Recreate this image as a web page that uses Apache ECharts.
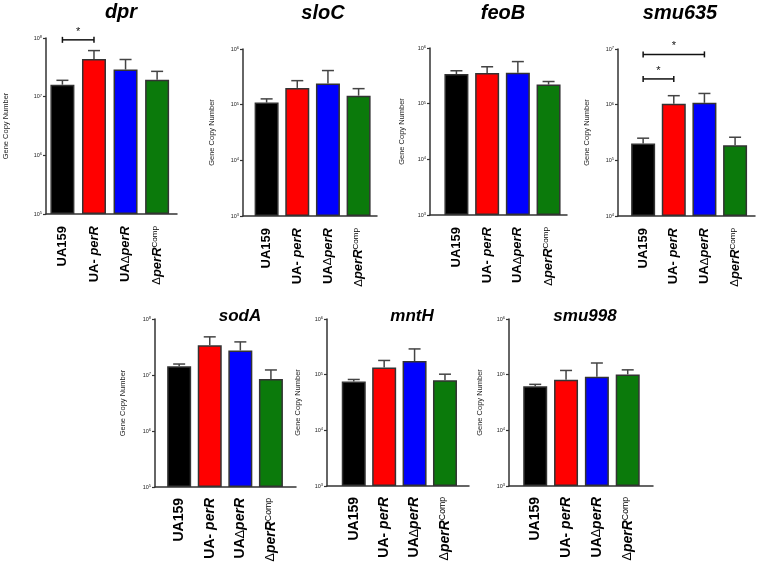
<!DOCTYPE html>
<html>
<head>
<meta charset="utf-8">
<script src="https://cdn.jsdelivr.net/npm/echarts@6/dist/echarts.min.js"></script>
<style>
html,body{margin:0;padding:0;background:#fff;}
#chart{width:760px;height:571px;}
</style>
</head>
<body>
<div id="chart"></div>
<script>
// ---------- DATA ----------
const genes = ['dpr', 'sloC', 'feoB', 'smu635', 'sodA', 'mntH', 'smu998'];
const catPrefix = ['UA159', 'UA- ', 'UA', ''];
const catDelta = ['', '', 'Δ', 'Δ'];
const catItalic = ['', 'perR', 'perR', 'perR'];
const catSup = ['', '', '', 'Comp'];
const yAxisName = 'Gene Copy Number';
const yMinExp = [5, 3, 3, 4, 5, 3, 3];
const yMaxExp = [8, 6, 6, 7, 8, 6, 6];

// mean values and upper ends of error bars
const dprMean = [1.6e7, 4.4e7, 2.9e7, 1.95e7];
const dprErr = [1.9e7, 6.1e7, 4.3e7, 2.7e7];
const sloCMean = [1.09e5, 2.0e5, 2.4e5, 1.45e5];
const sloCErr = [1.27e5, 2.7e5, 4.1e5, 1.94e5];
const feoBMean = [3.4e5, 3.57e5, 3.6e5, 2.2e5];
const feoBErr = [3.9e5, 4.6e5, 5.7e5, 2.5e5];
const smu635Mean = [2.0e5, 1.04e6, 1.08e6, 1.86e5];
const smu635Err = [2.5e5, 1.45e6, 1.59e6, 2.6e5];
const sodAMean = [1.43e7, 3.4e7, 2.75e7, 8.5e6];
const sodAErr = [1.57e7, 4.8e7, 3.9e7, 1.23e7];
const mntHMean = [7.5e4, 1.34e5, 1.76e5, 7.9e4];
const mntHErr = [8.2e4, 1.8e5, 2.9e5, 1.02e5];
const smu998Mean = [6.2e4, 8.1e4, 9.2e4, 1.01e5];
const smu998Err = [6.7e4, 1.19e5, 1.62e5, 1.22e5];

const means = [dprMean, sloCMean, feoBMean, smu635Mean, sodAMean, mntHMean, smu998Mean];
const errs = [dprErr, sloCErr, feoBErr, smu635Err, sodAErr, mntHErr, smu998Err];

// significance brackets: panel index, from category, to category, bracket height
const sigPanel = [0, 3, 3];
const sigFrom = [0, 0, 0];
const sigTo = [1, 1, 2];
const sigY = [9.3e7, 2.9e6, 8.0e6];
const sigLabel = ['*', '*', '*'];

// ---------- STYLE / LAYOUT ----------
const barColors = ['#000000', '#ff0000', '#0000ff', '#0b7a0b'];
const layout = [
  {left: 46, top: 38, width: 131, height: 176, xMin: -0.52, xMax: 3.63, nameGap: 36, tx: 121, ty: 2, ts: 20, lf: 13, lm: 12},
  {left: 243, top: 49, width: 134, height: 167, xMin: -0.77, xMax: 3.6, nameGap: 27, tx: 323, ty: 3, ts: 20, lf: 13, lm: 12},
  {left: 430, top: 48, width: 137, height: 167, xMin: -0.86, xMax: 3.6, nameGap: 24, tx: 503, ty: 3, ts: 20, lf: 13, lm: 12},
  {left: 618, top: 49, width: 137, height: 167, xMin: -0.82, xMax: 3.65, nameGap: 27, tx: 680, ty: 3, ts: 20, lf: 13, lm: 12},
  {left: 155, top: 319, width: 141, height: 168, xMin: -0.79, xMax: 3.82, nameGap: 28, tx: 240, ty: 308, ts: 17, lf: 14, lm: 11},
  {left: 327, top: 319, width: 142, height: 167, xMin: -0.88, xMax: 3.79, nameGap: 25, tx: 412, ty: 308, ts: 17, lf: 14, lm: 11},
  {left: 509, top: 319, width: 144, height: 167, xMin: -0.85, xMax: 3.82, nameGap: 25, tx: 585, ty: 308, ts: 17, lf: 14, lm: 11}
];
const FONT = '"Liberation Sans", Arial, sans-serif';
const axisColor = '#333';

function catRich(fs) {
  return {
    b: {fontFamily: FONT, fontWeight: 'bold', fontSize: fs, color: '#000'},
    d: {fontFamily: FONT, fontWeight: 'normal', fontSize: fs - 1.5, color: '#000'},
    i: {fontFamily: FONT, fontWeight: 'bold', fontStyle: 'italic', fontSize: fs, color: '#000'},
    s: {fontFamily: FONT, fontWeight: 'normal', fontSize: fs * 0.62, color: '#000', verticalAlign: 'top', lineHeight: fs}
  };
}
function catLabel(v) {
  const k = Math.round(v);
  let out = '';
  if (catPrefix[k]) out += '{b|' + catPrefix[k] + '}';
  if (catDelta[k]) out += '{d|' + catDelta[k] + '}';
  if (catItalic[k]) out += '{i|' + catItalic[k] + '}';
  if (catSup[k]) out += '{s|' + catSup[k] + '}';
  return out;
}

const grids = [], xAxes = [], yAxes = [], series = [], titles = [];
genes.forEach(function (g, p) {
  const L = layout[p];
  grids.push({left: L.left, top: L.top, width: L.width, height: L.height, containLabel: false});
  titles.push({
    text: g, left: L.tx, top: L.ty, textAlign: 'center', padding: 0,
    textStyle: {fontFamily: FONT, fontWeight: 'bold', fontStyle: 'italic', fontSize: L.ts, color: '#000'}
  });
  xAxes.push({
    type: 'value', gridIndex: p, min: L.xMin, max: L.xMax,
    splitLine: {show: false},
    axisLine: {show: true, onZero: false, lineStyle: {color: axisColor, width: 1.5}},
    axisTick: {show: false},
    axisLabel: {
      customValues: [0, 1, 2, 3], rotate: 90, margin: L.lm,
      formatter: catLabel, rich: catRich(L.lf)
    }
  });
  yAxes.push({
    type: 'log', logBase: 10, gridIndex: p,
    min: Math.pow(10, yMinExp[p]), max: Math.pow(10, yMaxExp[p]),
    startValue: Math.pow(10, yMinExp[p]),
    splitLine: {show: false},
    name: yAxisName, nameLocation: 'middle', nameRotate: 90, nameGap: L.nameGap,
    nameTextStyle: {fontFamily: FONT, fontSize: 7.5, color: '#222'},
    axisLine: {show: true, onZero: false, lineStyle: {color: axisColor, width: 1.5}},
    axisTick: {show: true, length: 3, lineStyle: {color: axisColor, width: 1.2}},
    axisLabel: {
      margin: 4,
      formatter: function (v) { return '{b|10}{s|' + Math.round(Math.log10(v)) + '}'; },
      rich: {
        b: {fontFamily: FONT, fontSize: 5.5, color: '#222'},
        s: {fontFamily: FONT, fontSize: 4, color: '#222', verticalAlign: 'top', lineHeight: 6}
      }
    }
  });
  const m = means[p], e = errs[p];
  series.push({
    type: 'bar', xAxisIndex: p, yAxisIndex: p, barWidth: 24, clip: true,
    data: m.map(function (v, i) {
      return {value: [i, v], itemStyle: {color: barColors[i]}};
    }),
    itemStyle: {borderColor: '#333', borderWidth: 1.5},
    emphasis: {disabled: true}, animation: false
  });
  series.push({
    type: 'custom', xAxisIndex: p, yAxisIndex: p, z: 5,
    data: m.map(function (v, i) { return [i, v, e[i]]; }),
    renderItem: function (params, api) {
      const a = api.coord([api.value(0), api.value(1)]);
      const b = api.coord([api.value(0), api.value(2)]);
      return {
        type: 'group', children: [
          {type: 'line', shape: {x1: a[0], y1: a[1], x2: b[0], y2: b[1]}, style: {stroke: '#444', lineWidth: 1.5}},
          {type: 'line', shape: {x1: b[0] - 6, y1: b[1], x2: b[0] + 6, y2: b[1]}, style: {stroke: '#444', lineWidth: 1.5}}
        ]
      };
    },
    animation: false
  });
  const sd = [];
  sigPanel.forEach(function (sp, k) {
    if (sp === p) sd.push([sigFrom[k], sigTo[k], sigY[k], sigLabel[k]]);
  });
  if (sd.length) {
    series.push({
      type: 'custom', xAxisIndex: p, yAxisIndex: p, z: 6, clip: false,
      data: sd,
      renderItem: function (params, api) {
        const a = api.coord([api.value(0), api.value(2)]);
        const b = api.coord([api.value(1), api.value(2)]);
        const lbl = sd[params.dataIndex][3];
        return {
          type: 'group', children: [
            {type: 'line', shape: {x1: a[0], y1: a[1], x2: b[0], y2: b[1]}, style: {stroke: '#111', lineWidth: 1.5}},
            {type: 'line', shape: {x1: a[0], y1: a[1] - 3, x2: a[0], y2: a[1] + 3}, style: {stroke: '#111', lineWidth: 1.5}},
            {type: 'line', shape: {x1: b[0], y1: b[1] - 3, x2: b[0], y2: b[1] + 3}, style: {stroke: '#111', lineWidth: 1.5}},
            {type: 'text', x: (a[0] + b[0]) / 2, y: a[1] - 8,
              style: {text: lbl, fontFamily: FONT, fontSize: 11, fill: '#111', align: 'center', verticalAlign: 'middle'}}
          ]
        };
      },
      animation: false
    });
  }
});

const chart = echarts.init(document.getElementById('chart'), null, {renderer: 'canvas'});
chart.setOption({
  animation: false,
  backgroundColor: '#fff',
  title: titles,
  grid: grids,
  xAxis: xAxes,
  yAxis: yAxes,
  series: series
});
</script>
</body>
</html>
